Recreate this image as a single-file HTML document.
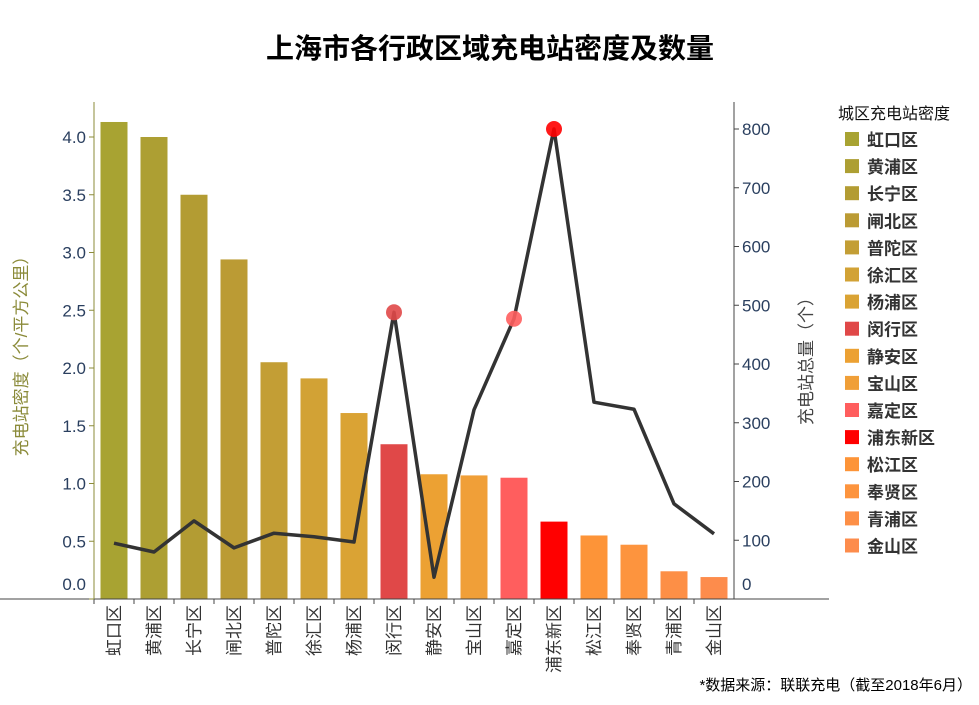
<!DOCTYPE html>
<html><head><meta charset="utf-8"><style>
body{margin:0;background:#fff;font-family:"Liberation Sans","Noto Sans CJK SC",sans-serif}
svg text{font-family:"Liberation Sans","Noto Sans CJK SC",sans-serif}
</style></head><body>
<svg id="c" width="979" height="700" xmlns="http://www.w3.org/2000/svg">
<text x="490" y="58" text-anchor="middle" font-size="28" font-weight="bold" fill="#000">上海市各行政区域充电站密度及数量</text>
<g id="bars"></g><g id="line"></g><g id="axes"></g><g id="legend"></g>
<text transform="translate(27,352) rotate(-90)" text-anchor="middle" font-size="17" fill="#8b8b3a">充电站密度（个/平方公里）</text>
<text transform="translate(812,357) rotate(-90)" text-anchor="middle" font-size="17" fill="#444">充电站总量（个）</text>
<text x="972" y="690" text-anchor="end" font-size="15" fill="#000">*数据来源：联联充电（截至2018年6月）</text>
</svg>
<script>
const districts=["虹口区","黄浦区","长宁区","闸北区","普陀区","徐汇区","杨浦区","闵行区","静安区","宝山区","嘉定区","浦东新区","松江区","奉贤区","青浦区","金山区"];
const density=[4.13,4.0,3.5,2.94,2.05,1.91,1.61,1.34,1.08,1.07,1.05,0.67,0.55,0.47,0.24,0.19];
const counts=[95,80,133,87,112,106,97,488,37,322,477,800,335,323,162,111];
const colors=["#a8a332","#ad9f33","#b39c33","#bb9b34","#c39e35","#d2a235","#daa334","#e04848","#eca133","#f09f38","#ff5e5e","#ff0000","#fd9438","#fd943e","#fd8f46","#fd8c4c"];
const leftTicks=[0,0.5,1,1.5,2,2.5,3,3.5,4];
const rightTicks=[0,100,200,300,400,500,600,700,800];
const markers=[7,10,11];
const NS="http://www.w3.org/2000/svg";
const X0=94,X1=734,Y0=599,step=40;
const x=i=>X0+20+i*step;
const yl=v=>Y0-v*115.5;
const yr=v=>Y0-v*0.5875;
function mk(t,a,p){const e=document.createElementNS(NS,t);for(const k in a)e.setAttribute(k,a[k]);p.appendChild(e);return e;}
const bars=document.getElementById('bars'),line=document.getElementById('line'),axes=document.getElementById('axes'),legend=document.getElementById('legend');
districts.forEach((d,i)=>{
 const r=mk('rect',{x:x(i)-13.5,y:yl(density[i]),width:27,height:Y0-yl(density[i]),fill:colors[i]},bars);
 
 
 const t=mk('text',{transform:`translate(${x(i)+6},605) rotate(-90)`,'text-anchor':'end','font-size':17,fill:'#333'},axes);
 t.textContent=d;
 
 
 const tk=mk('line',{x1:x(i)-20,x2:x(i)-20,y1:Y0,y2:Y0+5,stroke:'#444'},axes);
 
 
});
const pts=counts.map((c,i)=>x(i)+','+yr(c)).join(' ');
const pl=mk('polyline',{points:pts,fill:'none',stroke:'#333',"stroke-width":3.5,"stroke-linejoin":'round'},line);


markers.forEach(i=>{
 const c=mk('circle',{cx:x(i),cy:yr(counts[i]),r:8,fill:colors[i],opacity:0.9},line);
 
 
});
let a=mk('line',{x1:0,x2:829,y1:Y0,y2:Y0,stroke:'#444'},axes);


a=mk('line',{x1:X0,x2:X0,y1:102,y2:Y0,stroke:'#8b8b3a'},axes);


a=mk('line',{x1:X1,x2:X1,y1:102,y2:Y0,stroke:'#444'},axes);


leftTicks.forEach(v=>{
 const yy=v===0?584:yl(v);
 const t=mk('text',{x:86,y:yy+6,'text-anchor':'end','font-size':17,fill:'#2a3f5f'},axes);
 t.textContent=v.toFixed(1);
 
 
 const l=mk('line',{x1:X0-5,x2:X0,y1:yl(v),y2:yl(v),stroke:'#8b8b3a'},axes);
 
 
});
rightTicks.forEach(v=>{
 const yy=v===0?584:yr(v);
 const t=mk('text',{x:742,y:yy+6,'font-size':17,fill:'#2a3f5f'},axes);
 t.textContent=v;
 
 
 const l=mk('line',{x1:X1,x2:X1+5,y1:yr(v),y2:yr(v),stroke:'#444'},axes);
 
 
});
const lt=mk('text',{x:838,y:119,'font-size':16,fill:'#111'},legend);
lt.textContent='城区充电站密度';


districts.forEach((d,i)=>{
 const yy=139+i*27.1;
 const g=mk('g',{},legend);
 
 
 mk('rect',{x:845,y:yy-7,width:14,height:14,fill:colors[i]},g);
 const t=mk('text',{x:867,y:yy+7,'font-size':17,'font-weight':'bold',fill:'#333'},g);
 t.textContent=d;
});
</script>
</body></html>
